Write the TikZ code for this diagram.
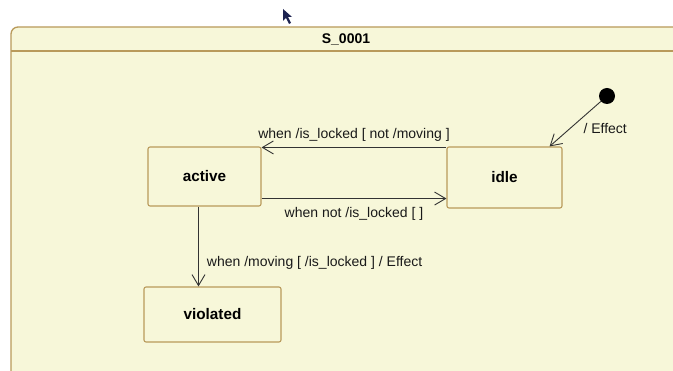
\documentclass[tikz,border=0pt]{standalone}
\usepackage{fontspec}
\setmainfont{Liberation Sans}
\usetikzlibrary{positioning,arrows.meta}
\definecolor{stfill}{HTML}{F7F7D9}
\definecolor{stline}{HTML}{B99A5B}
\definecolor{cursorblue}{HTML}{1C2250}

\begin{document}
\begin{tikzpicture}[x=1pt,y=-1pt,>={Straight Barb[length=11pt,width=13pt]},
  state/.style={draw=stline,fill=stfill,rounded corners=2pt,line width=1.1pt,
    minimum width=113pt,minimum height=59pt,font=\fontsize{15.3}{17}\selectfont\bfseries},
  trans/.style={->,line width=0.9pt,draw=black!80},
  lbl/.style={font=\fontsize{14}{16}\selectfont,text=black!90,inner sep=0pt}]
  \useasboundingbox (0,0) rectangle (673,371);
  \fill[white] (0,0) rectangle (673,371);

  % mouse pointer
  \fill[cursorblue] (283,9) -- (283,21) -- (286,18) -- (289,24) -- (291,23) -- (288,17) -- (292,17) -- cycle;

  % composite state
  \draw[stline,fill=stfill,line width=1.3pt,rounded corners=7pt]
    (11,385) -- (11,27) -- (685,27) -- (685,385) -- cycle;
  \draw[stline,line width=1.3pt] (11,51) -- (685,51);
  \node[font=\fontsize{14}{16}\selectfont\bfseries] (title) at (346,39) {S\_0001};

  \node[state]                                   (active)   at (204.5,176.5) {active};
  \node[state, minimum width=115pt, minimum height=61pt,
        right=300pt of active.center, anchor=center, yshift=-1pt] (idle) {idle};
  \node[state, minimum width=137pt, minimum height=55pt,
        below=138pt of active.center, anchor=center, xshift=8pt] (violated) {violated};
  \node[circle, fill=black, inner sep=0pt, minimum size=16pt] (init) at (607,96) {};

  \draw[trans] (init) -- ([xshift=-13pt]idle.north east)
    node[lbl, pos=0.6, right=13pt] {/ Effect};
  \draw[trans] ([yshift=-1pt]idle.north west) -- ([yshift=-1pt]idle.north west -| active.east)
    node[lbl, midway, above=6pt] {when /is\_locked [ not /moving ]};
  \draw[trans] ([yshift=8pt]active.south east) -- ([yshift=8pt]active.south east -| idle.west)
    node[lbl, midway, below=8pt] {when not /is\_locked [ ]};
  \draw[trans] ([xshift=-6pt]active.south) -- ([xshift=-6pt]active.south |- violated.north)
    node[lbl, pos=0.7, right=8pt] {when /moving [ /is\_locked ] / Effect};
\end{tikzpicture}
\end{document}
